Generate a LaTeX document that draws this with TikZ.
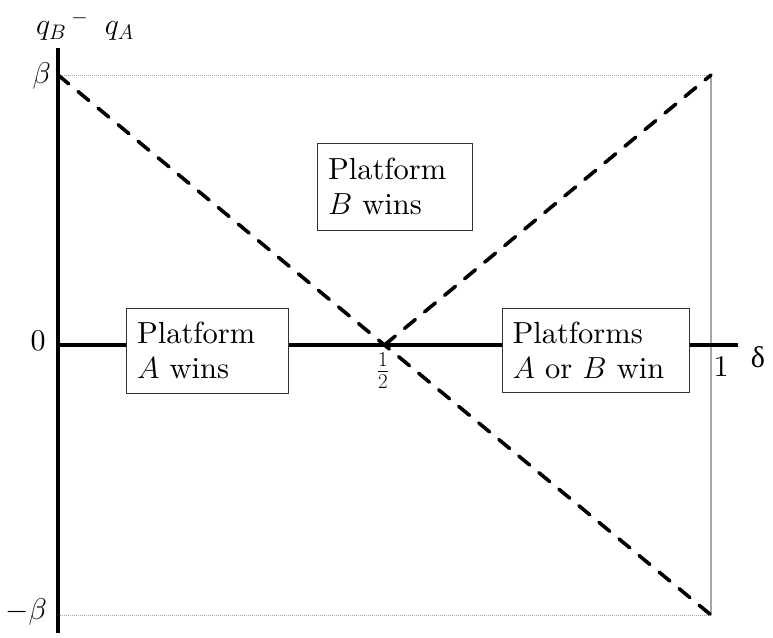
\RequirePackage{fix-cm}
\documentclass[tikz,border=0pt]{standalone}
\usepackage{fontspec}
\setmainfont{lmroman10-regular}[Extension=.otf, ItalicFont=lmroman10-italic, BoldFont=lmroman10-bold]
\newfontfamily\tmsfont{Liberation Serif}
\begin{document}
\begin{tikzpicture}[x=1pt,y=-1pt,
  txt/.style={font=\fontsize{30.5}{35}\selectfont},
  lab/.style={font=\fontsize{30}{35}\selectfont, inner sep=0pt},
  axis/.style={line width=3.2pt, black},
  dashline/.style={line width=3.6pt, dash pattern=on 14pt off 12pt, line cap=round},
  frameline/.style={gray!70, line width=1pt, densely dotted},
  rightline/.style={gray!70, line width=1.6pt},
  regionbox/.style={txt, draw=black!80, line width=1pt, fill=white, align=left, inner xsep=11pt, inner ysep=0pt}]
\useasboundingbox (0,0) rectangle (773,637);
\coordinate (O) at (58,345);
\coordinate (TL) at (58,75);
\coordinate (TR) at (711,75);
\coordinate (BR) at (711,615);
\coordinate (BL) at (58,615);
\coordinate (H) at (384.5,345);
\coordinate (Xend) at (738,345);
\coordinate (Ytop) at (58,48);
\coordinate (Ybot) at (58,633);
\draw[frameline] (TL) -- (TR);
\draw[frameline] (BL) -- (BR);
\draw[rightline] (TR) -- (BR);
\draw[axis] (O) -- (Xend);
\draw[axis] (Ybot) -- (Ytop);
\draw[dashline] (TL) -- (BR);
\draw[dashline] (H) -- (TR);
\node[regionbox, minimum width=162pt, minimum height=85pt, text width=140pt] (boxA) at (207,350.5) {Platform\\$A$ wins};
\node[regionbox, minimum width=155pt, minimum height=87pt, text width=133pt] (boxB) at (394.5,186.5) {Platform\\$B$ wins};
\node[regionbox, minimum width=187pt, minimum height=84pt, text width=166pt, inner xsep=10pt] (boxAB) at (595.5,350) {Platforms\\$A$ or $B$ win};
\node[lab, anchor=east] (beta) at (51,76) {$\beta$};
\node[lab] (zero) at (38,341) {0};
\node[lab, anchor=east] (mbeta) at (47,612) {$-\beta$};
\node[lab] (half) at (383,371) {$\frac12$};
\node[lab] (one) at (721,367) {1};
\node[lab] (delta) at (758,357) {\tmsfont δ};
\node[lab] (ylab) at (85,26) {$q_B\,{}^{-}\;\; q_A$};
\end{tikzpicture}
\end{document}
